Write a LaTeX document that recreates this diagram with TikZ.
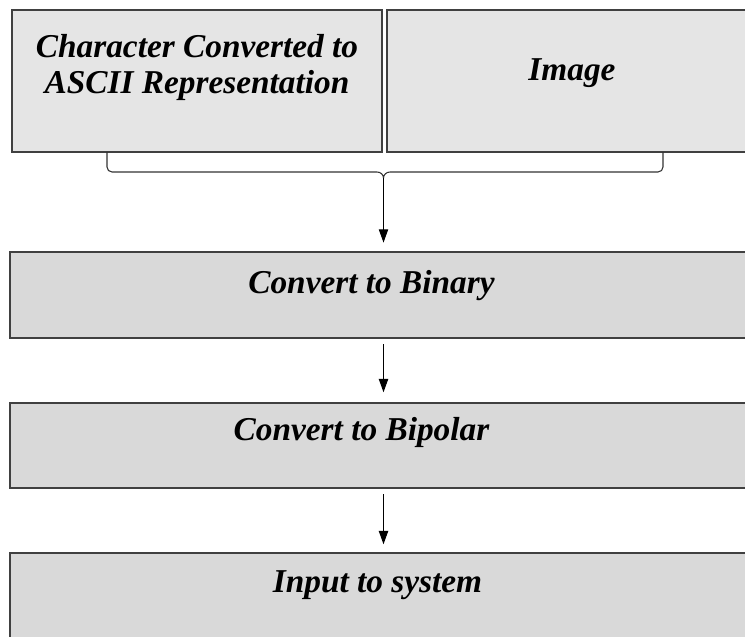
\documentclass[tikz,border=0pt]{standalone}
\usepackage{fontspec}
\setmainfont{Liberation Serif}
\usepackage{tikz}
\usetikzlibrary{arrows.meta}

\begin{document}
\begin{tikzpicture}[
  x=0.75pt, y=-0.75pt,
  stage/.style={draw=black!75, line width=1.1pt, inner xsep=0pt, inner ysep=0pt,
    font=\fontsize{25}{27}\selectfont\bfseries\itshape, align=center},
  topbox/.style={stage, fill=black!10, minimum width=277.5pt},
  rowbox/.style={stage, fill=black!15, minimum width=560.25pt},
  flow/.style={-{Triangle[length=10pt, width=7pt]}, line width=0.8pt},
  brc/.style={line width=0.8pt, draw=black!80}
]
\useasboundingbox (0,0) rectangle (745,636);

\node[topbox, text height=62.25pt, text depth=44.25pt] (ascii) at (197,81) {Character Converted to\\ASCII Representation};
\node[topbox, text height=52.5pt, text depth=54pt] (image) at (572,81) {Image};
\node[rowbox, text height=30.75pt, text depth=33.75pt] (binary)  at (383.5,295)   {Convert to Binary\hspace*{18pt}};
\node[rowbox, text height=27.75pt, text depth=36pt]    (bipolar) at (383.5,445.5) {Convert to Bipolar\hspace*{33pt}};
\node[rowbox, text height=29.25pt, text depth=34.5pt]  (input)   at (383.5,595.5) {Input to system\hspace*{9pt}};

% bracket under the two sources
\coordinate (bracetip) at (383.5,178);
\draw[brc] (107,152) -- (107,167) to[out=-90,in=180] (112,172) -- (377,172)
  to[out=0,in=90] (bracetip) to[out=90,in=180] (390,172) -- (658,172)
  to[out=0,in=-90] (663,167) -- (663,152);

\draw[flow, shorten >=6.5pt] (bracetip) -- (binary.north);
\draw[flow, shorten <=4pt, shorten >=7.5pt] (binary.south) -- (bipolar.north);
\draw[flow, shorten <=4pt, shorten >=6pt] (bipolar.south) -- (input.north);
\end{tikzpicture}
\end{document}
